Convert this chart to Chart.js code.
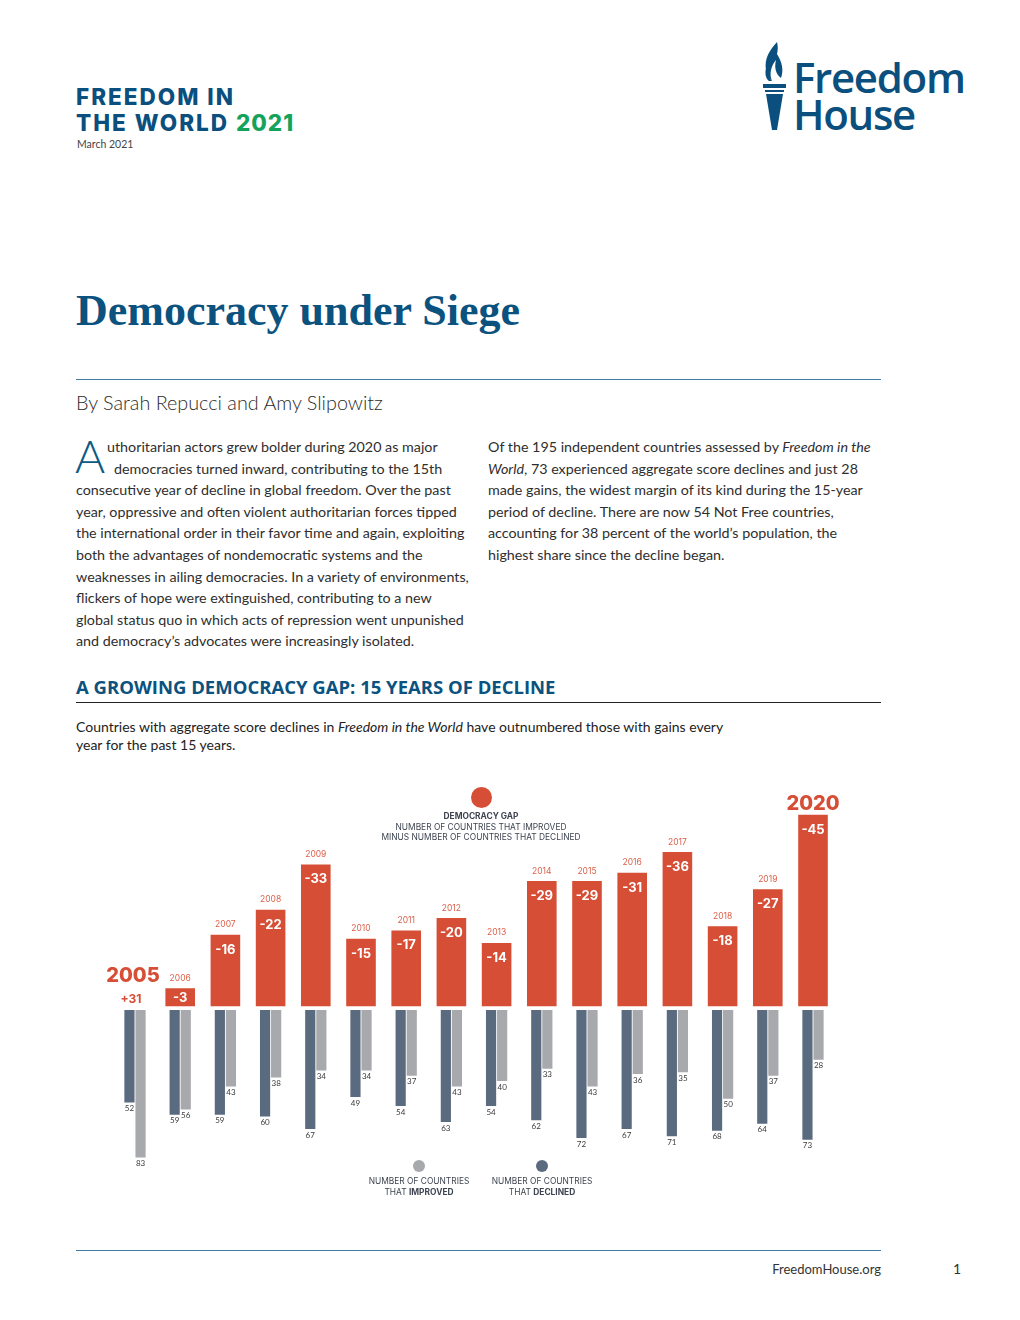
<!DOCTYPE html>
<html>
<head>
<meta charset="utf-8">
<script src="https://cdn.jsdelivr.net/npm/chart.js@4.4.1/dist/chart.umd.min.js"></script>
<style>
  html, body { margin: 0; padding: 0; background: #fff; }
  #page { position: relative; width: 1020px; height: 1320px; overflow: hidden; font-family: Lato, sans-serif; color: #2b2b2b; }
  .abs { position: absolute; white-space: nowrap; }
  .fitw { font-family: Inter, sans-serif; font-weight: 800; font-size: 22.5px; color: #0a4f7d; line-height: 25.5px; letter-spacing: 2px; }
  .fitw .yr { color: #14a35b; letter-spacing: 1px; }
  .logo { font-family: "Open Sans", sans-serif; font-weight: 600; font-size: 42px; color: #0a4f7d; line-height: 37px; letter-spacing: -1.3px; }
  h1 { margin: 0; font-family: "Liberation Serif", serif; font-weight: 700; font-size: 44px; color: #0b527f; }
  .rule { position: absolute; left: 76px; width: 805px; height: 1px; }
  .body { font-size: 14.3px; line-height: 21.6px; color: #2e2e2e; }
  .dropcap { font-family: Lato, sans-serif; font-weight: 300; font-size: 46px; color: #0b5a86; line-height: 46px; }
  .sect { font-family: "Open Sans", sans-serif; font-weight: 700; font-size: 18.5px; color: #0b527f; }
  .cap { font-size: 14px; line-height: 18px; color: #222; }
  .lg { font-family: Inter, sans-serif; font-size: 8.4px; color: #3d4450; text-align: center; line-height: 10.5px; }
  .dot { position: absolute; border-radius: 50%; }
  #chartbox { position: absolute; left: 76px; top: 780px; width: 805px; height: 420px; }
</style>
</head>
<body>
<div id="page">
  <!-- header -->
  <div class="abs fitw" style="left:76px; top:84px;">FREEDOM IN<br>THE WORLD <span class="yr">2021</span></div>
  <div class="abs" style="left:77px; top:138px; font-size:10.5px; color:#444;">March 2021</div>

  <!-- logo -->
  <svg class="abs" style="left:760px; top:40px;" width="30" height="92" viewBox="0 0 30 92">
    <path d="M17 2 C10 10 4 18 6 30 C7 36 10 39 12 41 C9 34 11 26 16 20 C14 28 16 34 21 38 C24 30 22 22 17 14 C18 10 18 6 17 2 Z" fill="#0a4f7d"/>
    <path d="M8 24 C4 30 5 38 9 41 L12 41 C8 37 7 31 8 24 Z" fill="#0a4f7d"/>
    <rect x="3" y="44" width="23" height="4" fill="#0a4f7d"/>
    <rect x="5" y="50" width="19" height="2" fill="#0a4f7d"/>
    <path d="M6 54 L23 54 L17 90 L12 90 Z" fill="#0a4f7d"/>
  </svg>
  <div class="abs logo" style="left:793px; top:58px;">Freedom<br>House</div>

  <!-- title -->
  <div class="abs" style="left:76px; top:285px;"><h1>Democracy under Siege</h1></div>
  <div class="rule" style="top:379px; background:#3f7ba4;"></div>
  <div class="abs" style="left:76px; top:390px; font-size:19.8px; font-weight:300; color:#2b2b2b;">By Sarah Repucci and Amy Slipowitz</div>

  <!-- body column 1 -->
  <div class="abs dropcap" style="left:75px; top:433px;">A</div>
  <div class="abs body" style="left:107px; top:436px;">uthoritarian actors grew bolder during 2020 as major</div>
  <div class="abs body" style="left:114px; top:457.6px;">democracies turned inward, contributing to the 15th</div>
  <div class="abs body" style="left:76px; top:479.2px;">consecutive year of decline in global freedom. Over the past<br>year, oppressive and often violent authoritarian forces tipped<br>the international order in their favor time and again, exploiting<br>both the advantages of nondemocratic systems and the<br>weaknesses in ailing democracies. In a variety of environments,<br>flickers of hope were extinguished, contributing to a new<br>global status quo in which acts of repression went unpunished<br>and democracy’s advocates were increasingly isolated.</div>

  <!-- body column 2 -->
  <div class="abs body" style="left:488px; top:436px;">Of the 195 independent countries assessed by <i>Freedom in the</i><br><i>World</i>, 73 experienced aggregate score declines and just 28<br>made gains, the widest margin of its kind during the 15-year<br>period of decline. There are now 54 Not Free countries,<br>accounting for 38 percent of the world’s population, the<br>highest share since the decline began.</div>

  <!-- section -->
  <div class="abs sect" style="left:76px; top:674px;">A GROWING DEMOCRACY GAP: 15 YEARS OF DECLINE</div>
  <div class="rule" style="top:702px; background:#222;"></div>
  <div class="abs cap" style="left:76px; top:718px;">Countries with aggregate score declines in <i>Freedom in the World</i> have outnumbered those with gains every<br>year for the past 15 years.</div>

  <!-- chart -->
  <div id="chartbox"><canvas id="gapChart" width="805" height="420"></canvas></div>

  <!-- legend top -->
  <div class="dot" style="left:470.5px; top:786.5px; width:21px; height:21px; background:#d54e35;"></div>
  <div class="abs lg" style="left:381px; width:200px; top:811px;"><b>DEMOCRACY GAP</b><br>NUMBER OF COUNTRIES THAT IMPROVED<br>MINUS NUMBER OF COUNTRIES THAT DECLINED</div>

  <!-- legend bottom -->
  <div class="dot" style="left:413px; top:1160px; width:12px; height:12px; background:#a7a9ac;"></div>
  <div class="abs lg" style="left:359px; width:120px; top:1176px;">NUMBER OF COUNTRIES<br>THAT <b>IMPROVED</b></div>
  <div class="dot" style="left:536px; top:1160px; width:12px; height:12px; background:#5b6b7f;"></div>
  <div class="abs lg" style="left:482px; width:120px; top:1176px;">NUMBER OF COUNTRIES<br>THAT <b>DECLINED</b></div>

  <!-- footer -->
  <div class="rule" style="top:1250px; background:#3f7ba4;"></div>
  <div class="abs" style="right:139px; top:1261px; font-size:13px; color:#333;">FreedomHouse.org</div>
  <div class="abs" style="left:953px; top:1260px; font-size:14px; color:#333;">1</div>
</div>

<script>
// === DATA ===
const years = ['2005', '2006', '2007', '2008', '2009', '2010', '2011', '2012',
               '2013', '2014', '2015', '2016', '2017', '2018', '2019', '2020'];
const gap = [31, -3, -16, -22, -33, -15, -17, -20, -14, -29, -29, -31, -36, -18, -27, -45];
const declined = [52, 59, 59, 60, 67, 49, 54, 63, 54, 62, 72, 67, 71, 68, 64, 73];
const improved = [83, 56, 43, 38, 34, 34, 37, 43, 40, 33, 43, 36, 35, 50, 37, 28];

const RED = '#d54e35';
const DARK = '#5b6b7f';
const LIGHT = '#a7a9ac';

// only the negative gaps get an upward bar, 2005 is a label only
const gapBars = gap.map(v => (v < 0 ? v : null));
const GAP_BASE = 1.36;

// === LABELS PLUGIN ===
const labelPlugin = {
    id: 'gapLabels',
    afterDatasetsDraw(chart) {
        const ctx = chart.ctx;
        const yScale = chart.scales.y;
        const xScale = chart.scales.x;
        const basePx = yScale.getPixelForValue(GAP_BASE);
        const redMeta = chart.getDatasetMeta(0);
        ctx.save();
        ctx.textAlign = 'center';
        ctx.textBaseline = 'middle';

        gap.forEach((v, i) => {
            const x = xScale.getPixelForValue(i);
            const last = i === gap.length - 1;
            if (v < 0) {
                const top = redMeta.data[i].y;
                // value inside bar (centred when the bar is short)
                ctx.fillStyle = '#ffffff';
                ctx.font = '700 13px Inter, sans-serif';
                const ty = Math.min(top + 15, (top + basePx) / 2 + 0.5);
                ctx.fillText(String(v), x, ty);
                // year label
                if (last) {
                    ctx.fillStyle = RED;
                    ctx.font = '800 20px Inter, sans-serif';
                    ctx.fillText(years[i], x, top - 11);
                } else {
                    ctx.fillStyle = '#dc5f48';
                    ctx.font = '400 8.5px Inter, sans-serif';
                    ctx.fillText(years[i], x, top - 10);
                }
            } else {
                ctx.fillStyle = RED;
                ctx.font = '800 20px Inter, sans-serif';
                ctx.fillText(years[i], x - 2, basePx - 30);
                ctx.font = '700 12px Inter, sans-serif';
                ctx.fillText('+' + v, x - 4, basePx - 7);
            }
        });

        // counts under the grey bars
        ctx.fillStyle = '#3a3a3a';
        ctx.font = '400 8px Lato, sans-serif';
        ctx.textBaseline = 'top';
        [1, 2].forEach(di => {
            const meta = chart.getDatasetMeta(di);
            const vals = chart.data.datasets[di].data;
            meta.data.forEach((bar, i) => {
                ctx.fillText(String(vals[i]), bar.x, bar.y + 2);
            });
        });
        ctx.restore();
    }
};

// === CHART ===
const ctx = document.getElementById('gapChart').getContext('2d');
new Chart(ctx, {
    type: 'bar',
    data: {
        labels: years,
        datasets: [
            {
                label: 'Democracy gap',
                data: gapBars,
                yAxisID: 'y',
                grouped: false,
                backgroundColor: RED,
                base: GAP_BASE,
                barPercentage: 0.655,
                categoryPercentage: 1
            },
            {
                label: 'Declined',
                data: declined,
                yAxisID: 'y2',
                stack: 'declined',
                backgroundColor: DARK,
                barPercentage: 0.92,
                categoryPercentage: 0.49
            },
            {
                label: 'Improved',
                data: improved,
                yAxisID: 'y2',
                stack: 'improved',
                backgroundColor: LIGHT,
                barPercentage: 0.92,
                categoryPercentage: 0.49
            }
        ]
    },
    options: {
        responsive: false,
        animation: false,
        layout: { padding: { left: 36.4, right: 45.4, top: 10, bottom: 30 } },
        plugins: { legend: { display: false }, tooltip: { enabled: false } },
        scales: {
            x: { type: 'category', display: false, offset: true },
            y: { display: false, reverse: true, min: -51.02, max: 40.99 },
            y2: { display: false, reverse: true, min: -123.8, max: 90.04 }
        }
    },
    plugins: [labelPlugin]
});
</script>
</body>
</html>
